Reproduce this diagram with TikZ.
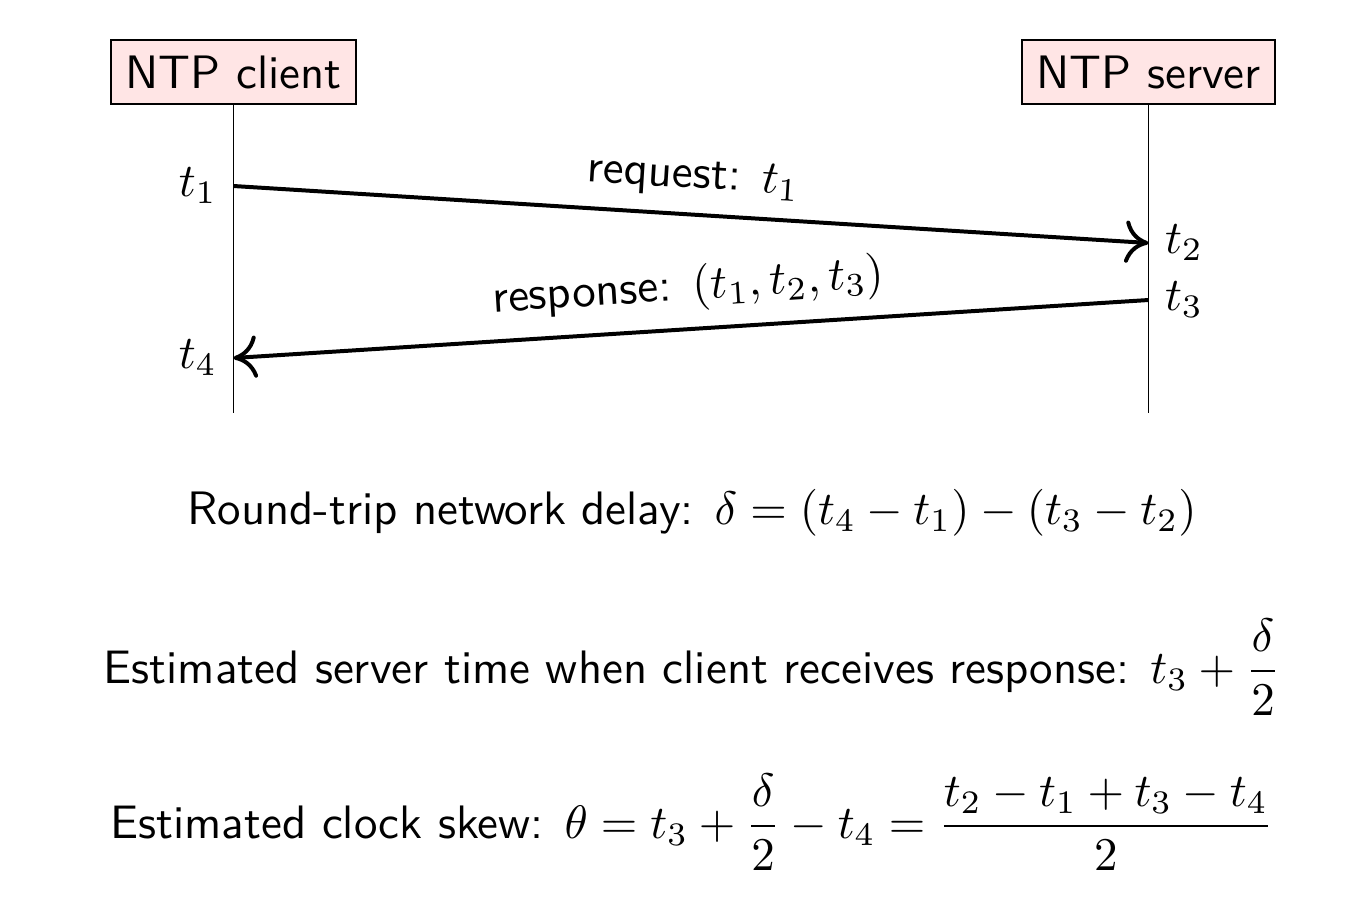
\documentclass[tikz,border=0pt]{standalone}
\usepackage{amsmath}
\usetikzlibrary{arrows.meta}
\begin{document}
\begin{tikzpicture}[x=0.2132pt,y=-0.2132pt, font=\sffamily,
  actor/.style={draw, fill=red!10, minimum height=13.65pt, inner xsep=3pt, line width=0.4pt},
  life/.style={line width=0.35pt},
  msg/.style={line width=0.85pt, -{Computer Modern Rightarrow[length=5pt,width=9pt]}},
  msgback/.style={line width=0.85pt, {Computer Modern Rightarrow[length=5pt,width=9pt]}-},
  ]
\useasboundingbox (0,0) rectangle (1372,908);
\node[actor] (client) at (233.5,72) {NTP client};
\node[actor] (server) at (1148.5,72) {NTP server};
\coordinate (t1p) at (233.5,186);
\coordinate (t4p) at (233.5,358);
\coordinate (t2p) at (1148.5,243);
\coordinate (t3p) at (1148.5,300);
\coordinate (cb) at (233.5,413);
\coordinate (sb) at (1148.5,413);
\draw[life] (client) -- (cb);
\draw[life] (server) -- (sb);
\draw[msg] (t1p) -- node[sloped, above] (lreq) {request: $t_1$} (t2p);
\draw[msgback] (t4p) -- node[sloped, above] (lresp) {response: $(t_1, t_2, t_3)$} (t3p);
\node[left] (lt1) at (t1p) {$t_1$};
\node[left] (lt4) at (t4p) {$t_4$};
\node[right] (lt2) at (t2p) {$t_2$};
\node[right] (lt3) at (t3p) {$t_3$};
\node (f1) at (692,513) {Round-trip network delay: $\delta = (t_4 - t_1) - (t_3 - t_2)$};
\node (f2) at (692,667) {Estimated server time when client receives response: $\displaystyle t_3 + \frac{\delta}{2}$};
\node (f3) at (692,822) {Estimated clock skew: $\displaystyle \theta = t_3 + \frac{\delta}{2} - t_4 = \frac{t_2 - t_1 + t_3 - t_4}{2}$};
\end{tikzpicture}
\end{document}
